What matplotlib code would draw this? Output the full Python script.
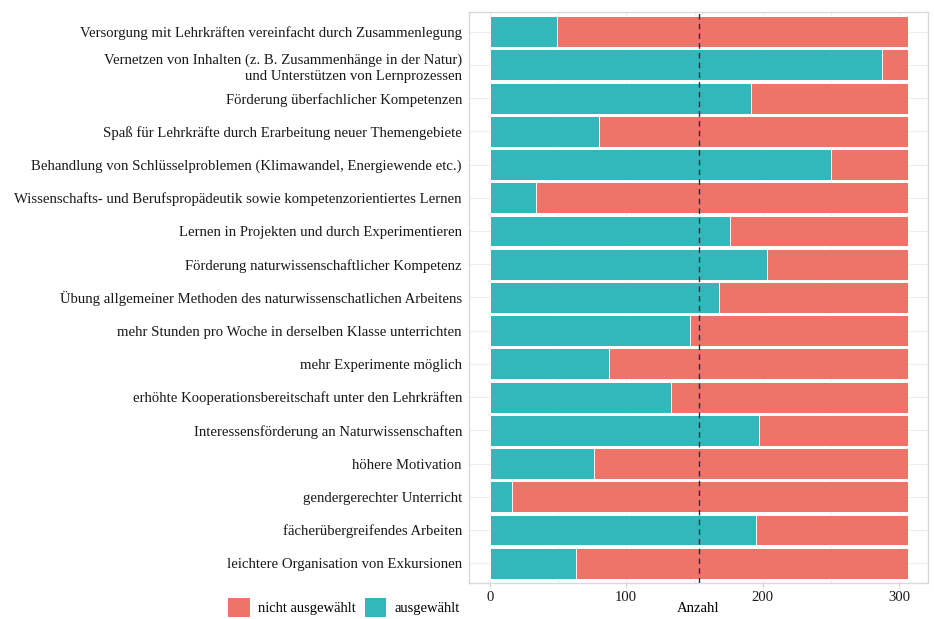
import matplotlib.pyplot as plt
from matplotlib.patches import Patch

categories = [
    'Versorgung mit Lehrkräften vereinfacht durch Zusammenlegung',
    'Vernetzen von Inhalten (z. B. Zusammenhänge in der Natur)\nund Unterstützen von Lernprozessen',
    'Förderung überfachlicher Kompetenzen',
    'Spaß für Lehrkräfte durch Erarbeitung neuer Themengebiete',
    'Behandlung von Schlüsselproblemen (Klimawandel, Energiewende etc.)',
    'Wissenschafts- und Berufspropädeutik sowie kompetenzorientiertes Lernen',
    'Lernen in Projekten und durch Experimentieren',
    'Förderung naturwissenschaftlicher Kompetenz',
    'Übung allgemeiner Methoden des naturwissenschatlichen Arbeitens',
    'mehr Stunden pro Woche in derselben Klasse unterrichten',
    'mehr Experimente möglich',
    'erhöhte Kooperationsbereitschaft unter den Lehrkräften',
    'Interessensförderung an Naturwissenschaften',
    'höhere Motivation',
    'gendergerechter Unterricht',
    'fächerübergreifendes Arbeiten',
    'leichtere Organisation von Exkursionen',
]
ausgewaehlt = [49, 287, 191, 80, 250, 34, 176, 203, 168, 147, 87, 133, 197, 76, 16, 195, 63]
total = 306
nicht_ausgewaehlt = [total - v for v in ausgewaehlt]

teal = '#33b7bb'
salmon = '#ee7368'

plt.rcParams['font.family'] = ['Liberation Serif', 'DejaVu Serif']

fig, ax = plt.subplots(figsize=(9.34, 6.19), dpi=100)
fig.subplots_adjust(left=0.502, right=0.994, top=0.981, bottom=0.058)

y = list(range(len(categories)))[::-1]
ax.barh(y, ausgewaehlt, height=0.93, color=teal, edgecolor='white', linewidth=0.7, zorder=2)
ax.barh(y, nicht_ausgewaehlt, left=ausgewaehlt, height=0.93, color=salmon,
        edgecolor='white', linewidth=0.7, zorder=2)
ax.axvline(total / 2, color='#2b2b3b', linestyle=(0, (4, 3)), linewidth=1, zorder=3)

ax.set_yticks(y)
ax.set_yticklabels(categories, fontsize=10.65, color='#1a1a1a', linespacing=1.35)
ax.set_xticks([0, 100, 200, 300])
ax.set_xticks([50, 150, 250], minor=True)
ax.tick_params(axis='x', labelsize=10.65, colors='#1a1a1a', length=3, color='#cccccc', pad=3)
ax.tick_params(axis='x', which='minor', length=0)
ax.tick_params(axis='y', length=0, pad=5)
ax.set_xlim(-15.3, 321.3)
ax.set_ylim(-0.6, len(categories) - 0.4)
ax.set_xlabel('Anzahl', fontsize=10.65, labelpad=-2)

ax.grid(True, which='both', color='#ededed', linewidth=0.8, zorder=0)
ax.set_axisbelow(True)
for s in ax.spines.values():
    s.set_color('#d9d9d9')
    s.set_linewidth(1)

handles = [Patch(facecolor=salmon, label='nicht ausgewählt'),
           Patch(facecolor=teal, label='ausgewählt')]
fig.legend(handles=handles, loc='center left', bbox_to_anchor=(0.238, 0.019), ncol=2,
           frameon=False, fontsize=10.5, handlelength=1.5, handleheight=1.6,
           handletextpad=0.55, columnspacing=0.6, borderaxespad=0)

plt.savefig('out.png', dpi=100)
